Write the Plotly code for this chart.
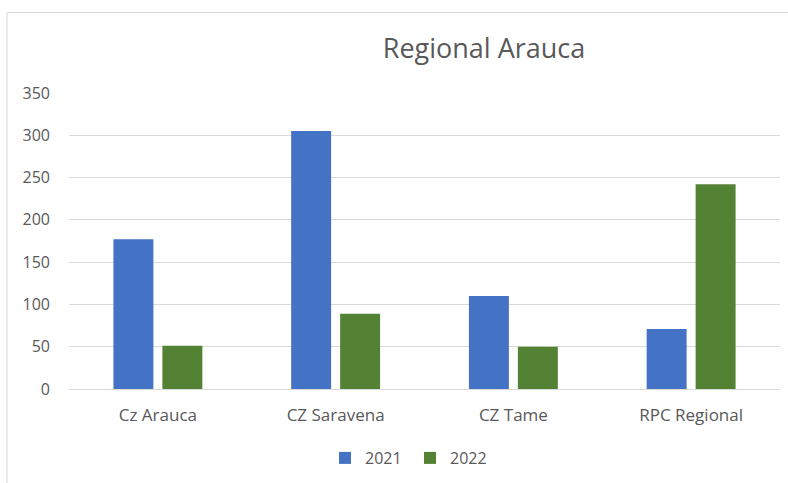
import plotly.graph_objects as go

categories = ["Cz Arauca", "CZ Saravena", "CZ Tame", "RPC Regional"]
values_2021 = [177, 305, 110, 71]
values_2022 = [51, 89, 50, 242]
y_ticks = [0, 50, 100, 150, 200, 250, 300, 350]

W, H = 788, 483
L, R, T, B = 69, 8, 93, 94

fig = go.Figure()
fig.add_trace(go.Bar(name="2021", x=categories, y=values_2021, marker_color="#4472C4",
                     marker_line_width=0))
fig.add_trace(go.Bar(name="2022", x=categories, y=values_2022, marker_color="#548235",
                     marker_line_width=0))

font = "'Open Sans', sans-serif"
pw = W - L - R
ph = H - T - B

fig.update_layout(
    width=W, height=H,
    margin=dict(l=L, r=R, t=T, b=B),
    paper_bgcolor="white", plot_bgcolor="white",
    barmode="group", bargap=0.449, bargroupgap=0.184,
    font=dict(family=font, color="#595959", size=16),
    title=dict(text="Regional Arauca", x=484 / W, xanchor="center",
               y=1 - 49 / H, yanchor="middle",
               font=dict(size=27, color="#595959", family=font)),
    legend=dict(orientation="h", x=(410 - L) / pw, xanchor="center",
                y=(389 - 458) / ph, yanchor="middle",
                font=dict(size=16, color="#595959"), itemwidth=30,
                entrywidth=40, traceorder="normal"),
    xaxis=dict(showgrid=False, showline=True, linecolor="#d9d9d9", linewidth=1,
               ticks="", ticklabelstandoff=11, tickfont=dict(size=17, color="#595959")),
    yaxis=dict(range=[0, 350], tickvals=y_ticks, showgrid=True, gridcolor="#d9d9d9",
               gridwidth=1, zeroline=False, showline=False, ticks="",
               ticklabelstandoff=18, tickfont=dict(size=16, color="#595959")),
    shapes=[
        dict(type="rect", xref="paper", yref="paper",
             x0=(7 - L) / pw, x1=(800 - L) / pw,
             y0=(389 - 500) / ph, y1=(389 - 12.5) / ph,
             line=dict(color="#d9d9d9", width=1), layer="below"),
    ],
)

fig.write_html("out.html", config={"displayModeBar": False},
               post_script="document.body.style.margin='0';")
